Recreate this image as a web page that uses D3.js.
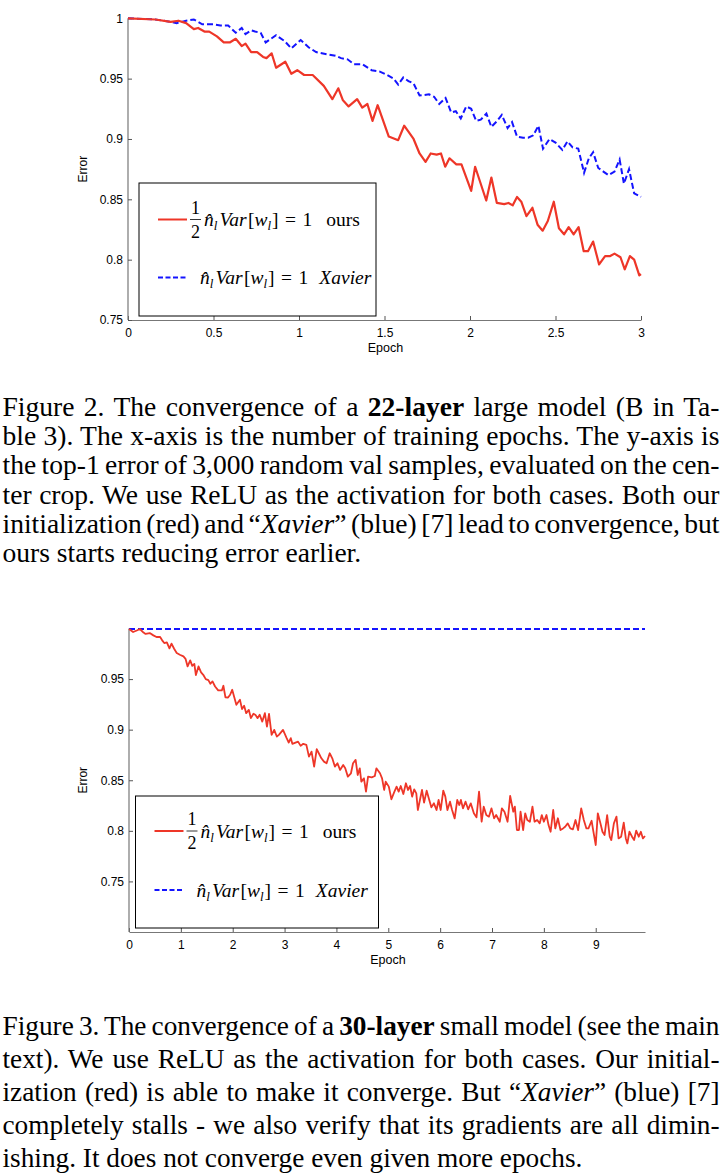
<!DOCTYPE html>
<html>
<head>
<meta charset="utf-8">
<script src="https://cdn.jsdelivr.net/npm/d3@7"></script>
<style>
  body { margin: 0; background: #fff; }
</style>
</head>
<body>
<svg id="fig" width="724" height="1176"></svg>
<script>
// Figure 2: 22-layer model, error vs epoch
var fig2OursEpoch = [0, 0.16, 0.25, 0.295, 0.34, 0.385, 0.41, 0.447, 0.475, 0.52, 0.56, 0.595, 0.63, 0.665, 0.687,
    0.72, 0.755, 0.79, 0.81, 0.84, 0.866, 0.92, 0.955, 0.99, 1.03, 1.08, 1.145, 1.195, 1.23, 1.257, 1.29, 1.34,
    1.37, 1.4, 1.43, 1.46, 1.525, 1.58, 1.615, 1.67, 1.705, 1.74, 1.77, 1.805, 1.83, 1.855, 1.88, 1.92, 1.95,
    2.007, 2.03, 2.095, 2.125, 2.157, 2.2, 2.225, 2.25, 2.275, 2.3, 2.33, 2.365, 2.395, 2.425, 2.455, 2.49, 2.52,
    2.55, 2.577, 2.606, 2.635, 2.665, 2.69, 2.72, 2.755, 2.79, 2.82, 2.845, 2.88, 2.905, 2.935, 2.96, 2.99, 3.0];
var fig2OursErr = [1.0, 0.999, 0.997, 0.998, 0.996, 0.991, 0.992, 0.989, 0.989, 0.985, 0.980, 0.980, 0.983, 0.977, 0.979,
    0.972, 0.972, 0.968, 0.967, 0.971, 0.959, 0.964, 0.954, 0.957, 0.953, 0.953, 0.944, 0.933, 0.942, 0.932, 0.927, 0.933,
    0.926, 0.929, 0.915, 0.928, 0.902, 0.899, 0.911, 0.900, 0.888, 0.881, 0.888, 0.887, 0.888, 0.877, 0.884, 0.879, 0.879,
    0.857, 0.877, 0.849, 0.868, 0.847, 0.846, 0.847, 0.845, 0.852, 0.848, 0.836, 0.843, 0.829, 0.824, 0.832, 0.848, 0.826,
    0.821, 0.827, 0.821, 0.827, 0.807, 0.807, 0.815, 0.796, 0.803, 0.803, 0.805, 0.802, 0.792, 0.803, 0.800, 0.787, 0.788];

var fig2XavierEpoch = [0, 0.16, 0.25, 0.285, 0.34, 0.385, 0.434, 0.497, 0.54, 0.586, 0.63, 0.665, 0.687, 0.72, 0.743,
    0.776, 0.805, 0.866, 0.917, 0.955, 1.01, 1.056, 1.1, 1.168, 1.213, 1.246, 1.284, 1.32, 1.37, 1.425, 1.47, 1.515,
    1.553, 1.58, 1.61, 1.64, 1.67, 1.705, 1.76, 1.79, 1.82, 1.857, 1.89, 1.917, 1.946, 1.978, 2.007, 2.036, 2.063,
    2.096, 2.125, 2.159, 2.186, 2.22, 2.246, 2.275, 2.31, 2.34, 2.37, 2.4, 2.427, 2.465, 2.5, 2.54, 2.57, 2.6, 2.633,
    2.667, 2.695, 2.72, 2.75, 2.78, 2.81, 2.845, 2.875, 2.9, 2.93, 2.96, 3.0];
var fig2XavierErr = [1.0, 0.999, 0.997, 0.996, 0.998, 0.999, 0.995, 0.995, 0.994, 0.994, 0.988, 0.992, 0.987, 0.990, 0.989,
    0.988, 0.980, 0.986, 0.981, 0.975, 0.982, 0.976, 0.972, 0.970, 0.969, 0.967, 0.966, 0.962, 0.962, 0.957, 0.956, 0.953,
    0.950, 0.945, 0.951, 0.948, 0.946, 0.936, 0.937, 0.935, 0.929, 0.934, 0.922, 0.923, 0.917, 0.927, 0.925, 0.915, 0.916,
    0.921, 0.910, 0.915, 0.920, 0.909, 0.914, 0.902, 0.901, 0.901, 0.903, 0.911, 0.892, 0.900, 0.897, 0.891, 0.898, 0.893, 0.892,
    0.872, 0.884, 0.889, 0.876, 0.873, 0.870, 0.873, 0.883, 0.863, 0.875, 0.855, 0.852];

var fig2XTicks = [0, 0.5, 1, 1.5, 2, 2.5, 3];
var fig2YTicks = [0.75, 0.8, 0.85, 0.9, 0.95, 1];

// Figure 3: 30-layer model, error vs epoch
var fig3OursEpoch = [0, 0.02, 0.08, 0.15, 0.21, 0.28, 0.32, 0.40, 0.47, 0.53, 0.60, 0.64, 0.68, 0.73, 0.78, 0.82, 0.87,
    0.92, 0.98, 1.05, 1.09, 1.13, 1.18, 1.22, 1.26, 1.29, 1.34, 1.39, 1.44, 1.48, 1.53, 1.57, 1.61, 1.66, 1.72, 1.79,
    1.82, 1.86, 1.91, 1.95, 1.99, 2.03, 2.07, 2.14, 2.18, 2.22, 2.26, 2.31, 2.35, 2.40, 2.44, 2.48, 2.52, 2.57, 2.62,
    2.66, 2.70, 2.75, 2.80, 2.85, 2.89, 2.97, 3.04, 3.08, 3.12, 3.15, 3.26, 3.31, 3.36, 3.42, 3.47, 3.52, 3.57, 3.62,
    3.66, 3.71, 3.76, 3.81, 3.87, 3.92, 3.97, 4.02, 4.07, 4.13, 4.17, 4.22, 4.28, 4.32, 4.37, 4.41, 4.45, 4.48, 4.53,
    4.57, 4.61, 4.68, 4.74, 4.77, 4.84, 4.88, 4.92, 4.95, 5.01, 5.06, 5.11, 5.16, 5.20, 5.24, 5.29, 5.34, 5.38, 5.42,
    5.46, 5.50, 5.54, 5.57, 5.61, 5.65, 5.69, 5.74, 5.79, 5.83, 5.88, 5.93, 5.97, 6.01, 6.06, 6.10, 6.14, 6.19, 6.23,
    6.28, 6.33, 6.37, 6.40, 6.44, 6.49, 6.54, 6.59, 6.65, 6.70, 6.75, 6.80, 6.84, 6.89, 6.94, 6.99, 7.04, 7.08, 7.15,
    7.19, 7.24, 7.30, 7.35, 7.41, 7.44, 7.48, 7.52, 7.55, 7.60, 7.64, 7.68, 7.73, 7.78, 7.82, 7.87, 7.92, 7.96, 8.00,
    8.05, 8.09, 8.13, 8.18, 8.22, 8.27, 8.32, 8.37, 8.41, 8.46, 8.51, 8.56, 8.61, 8.66, 8.72, 8.77, 8.82, 8.86, 8.92,
    8.95, 9.00, 9.04, 9.09, 9.13, 9.17, 9.22, 9.27, 9.30, 9.35, 9.40, 9.44, 9.49, 9.54, 9.58, 9.61, 9.65, 9.70, 9.74,
    9.78, 9.83, 9.87, 9.91, 9.95];
var fig3OursErr = [0.9995, 0.9988, 0.9965, 0.998, 0.9995, 0.996, 0.9946, 0.9955, 0.9932, 0.9916, 0.9916, 0.9883, 0.9856,
    0.9863, 0.9804, 0.985, 0.980, 0.9757, 0.974, 0.9724, 0.970, 0.9625, 0.9685, 0.963, 0.965, 0.954, 0.9625, 0.9566,
    0.9536, 0.950, 0.949, 0.9454, 0.9477, 0.9427, 0.9388, 0.9388, 0.9434, 0.932, 0.9318, 0.9345, 0.9394, 0.932, 0.9246,
    0.9295, 0.9203, 0.9236, 0.9163, 0.9196, 0.9114, 0.9157, 0.9144, 0.9114, 0.9147, 0.908, 0.9163, 0.9031, 0.9157,
    0.8949, 0.8998, 0.8932, 0.8949, 0.8998, 0.8916, 0.8873, 0.8916, 0.886, 0.8882, 0.884, 0.886, 0.885, 0.8734, 0.8783,
    0.8635, 0.8807, 0.8767, 0.8717, 0.8684, 0.8668, 0.8767, 0.8717, 0.8635, 0.8668, 0.8602, 0.8651, 0.8618, 0.8536,
    0.8569, 0.8668, 0.8701, 0.8552, 0.8618, 0.8486, 0.8519, 0.8387, 0.8536, 0.8529, 0.8542, 0.8618, 0.8569, 0.8519,
    0.8404, 0.8486, 0.8437, 0.8312, 0.8378, 0.8437, 0.8387, 0.8443, 0.8364, 0.847, 0.8404, 0.8443, 0.8338, 0.841,
    0.8371, 0.8206, 0.8305, 0.8404, 0.8279, 0.8397, 0.8305, 0.8232, 0.8272, 0.8206, 0.8305, 0.8206, 0.8397, 0.8338,
    0.8206, 0.8288, 0.8206, 0.8123, 0.8305, 0.8255, 0.8305, 0.8222, 0.8288, 0.8213, 0.8272, 0.8173, 0.8133, 0.8387,
    0.809, 0.8239, 0.8156, 0.814, 0.8222, 0.8123, 0.8156, 0.809, 0.8222, 0.8189, 0.809, 0.8345, 0.8189, 0.8239, 0.8008,
    0.8008, 0.8189, 0.8008, 0.8173, 0.8107, 0.809, 0.8239, 0.809, 0.8107, 0.8074, 0.8156, 0.809, 0.8156, 0.8057, 0.7991,
    0.8206, 0.8024, 0.8124, 0.8008, 0.8024, 0.8041, 0.8074, 0.8024, 0.8015, 0.8107, 0.8008, 0.8222, 0.8107, 0.8024,
    0.8024, 0.81, 0.8008, 0.786, 0.8173, 0.8074, 0.7991, 0.7958, 0.8156, 0.7942, 0.7909, 0.8074, 0.814, 0.7925, 0.7942,
    0.8081, 0.7925, 0.7876, 0.7991, 0.7942, 0.7909, 0.8001, 0.7942, 0.7991, 0.7925, 0.7949];

var fig3XavierEpoch = [0, 1, 2, 3, 4, 5, 6, 7, 8, 9, 9.95];
var fig3XavierErr = [0.9995, 0.9995, 0.9995, 0.9995, 0.9995, 0.9995, 0.9995, 0.9995, 0.9995, 0.9995, 0.9995];

var fig3XTicks = [0, 1, 2, 3, 4, 5, 6, 7, 8, 9];
var fig3YTicks = [0.75, 0.8, 0.85, 0.9, 0.95];

var legendLabels = ['ours', 'Xavier'];

var fig2Caption = [
    'Figure 2. The convergence of a *22-layer* large model (B in Ta-',
    'ble 3). The x-axis is the number of training epochs. The y-axis is',
    'the top-1 error of 3,000 random val samples, evaluated on the cen-',
    'ter crop. We use ReLU as the activation for both cases. Both our',
    'initialization (red) and \u201c_Xavier_\u201d (blue) [7] lead to convergence, but',
    'ours starts reducing error earlier.'
];
var fig3Caption = [
    'Figure 3. The convergence of a *30-layer* small model (see the main',
    'text). We use ReLU as the activation for both cases. Our initial-',
    'ization (red) is able to make it converge. But \u201c_Xavier_\u201d (blue) [7]',
    'completely stalls - we also verify that its gradients are all dimin-',
    'ishing. It does not converge even given more epochs.'
];

var RED = '#ee3628', BLUE = '#1414ff';
var SANS = '"Liberation Sans", Arial, Helvetica, sans-serif';
var SERIF = '"Liberation Serif", "Times New Roman", serif';

var svg = d3.select('#fig');

function zip(xs, ys) { return xs.map(function(x, i) { return [x, ys[i]] }) }

function drawPanel(p)
{
    var g = svg.append('g');
    var x = d3.scaleLinear().domain(p.xDomain).range([p.left, p.right]),
        y = d3.scaleLinear().domain(p.yDomain).range([p.bottom, p.top]);

    var fmt = function(d) { return String(d) };

    var xa = g.append('g')
        .attr('transform', 'translate(0,' + p.bottom + ')')
        .call(d3.axisBottom(x).tickValues(p.xTicks).tickFormat(fmt).tickSizeInner(-4).tickSizeOuter(0).tickPadding(8));
    var ya = g.append('g')
        .attr('transform', 'translate(' + p.left + ',0)')
        .call(d3.axisLeft(y).tickValues(p.yTicks).tickFormat(fmt).tickSizeInner(-4).tickSizeOuter(0).tickPadding(5));

    [xa, ya].forEach(function(a) {
        a.attr('font-family', SANS).attr('font-size', 12);
        a.select('.domain').attr('stroke', '#777').attr('stroke-width', 1.2);
        a.selectAll('.tick line').attr('stroke', '#555');
        a.selectAll('.tick text').attr('fill', '#000');
    });

    // the y domain line covers the full extent
    ya.select('.domain').attr('d', 'M0,' + p.top + 'V' + p.bottom);

    g.append('text')
        .attr('transform', 'translate(' + p.yLabelX + ',' + ((p.top + p.bottom) / 2) + ') rotate(-90)')
        .attr('text-anchor', 'middle')
        .attr('font-family', SANS).attr('font-size', 12)
        .text('Error');

    g.append('text')
        .attr('x', (p.left + p.right) / 2 + 1).attr('y', p.bottom + 32)
        .attr('text-anchor', 'middle')
        .attr('font-family', SANS).attr('font-size', 12.5)
        .text('Epoch');

    var line = d3.line().x(function(d) { return x(d[0]) }).y(function(d) { return y(d[1]) });

    g.append('path')
        .datum(p.xavier)
        .attr('fill', 'none').attr('stroke', BLUE).attr('stroke-width', 2)
        .attr('stroke-dasharray', '6,3')
        .attr('d', line);

    g.append('path')
        .datum(p.ours)
        .attr('fill', 'none').attr('stroke', RED).attr('stroke-width', p.redWidth)
        .attr('stroke-linejoin', 'round')
        .attr('d', line);

    drawLegend(g, p.legend);
}

function mathText(g, x0, yb, label, italic)
{
    var t = g.append('text')
        .attr('x', x0).attr('y', yb)
        .attr('font-family', SERIF).attr('font-size', 19.5);

    t.append('tspan').attr('font-style', 'italic').text('n\u0302');
    t.append('tspan').attr('font-style', 'italic').attr('font-size', 13).attr('dy', 4).text('l');
    t.append('tspan').attr('font-style', 'italic').attr('dy', -4).attr('dx', 2).text('Var');
    t.append('tspan').attr('dx', 1.5).text('[');
    t.append('tspan').attr('font-style', 'italic').text('w');
    t.append('tspan').attr('font-style', 'italic').attr('font-size', 13).attr('dy', 4).text('l');
    t.append('tspan').attr('dy', -4).attr('dx', 1).text(']');
    t.append('tspan').attr('dx', 6.5).text('=');
    t.append('tspan').attr('dx', 6.5).text('1');
    t.append('tspan').attr('dx', italic ? 11 : 14).attr('font-style', italic ? 'italic' : 'normal').text(label);
}

function drawLegend(g, L)
{
    g.append('rect')
        .attr('x', L.x).attr('y', L.y).attr('width', L.w).attr('height', L.h)
        .attr('fill', '#fff').attr('stroke', '#000').attr('stroke-width', 1);

    // ours row
    g.append('line')
        .attr('x1', L.x + 19).attr('x2', L.x + 48).attr('y1', L.row1).attr('y2', L.row1)
        .attr('stroke', RED).attr('stroke-width', 2);
    var fx = L.x + 56.5;
    g.append('text').attr('x', fx).attr('y', L.row1 - 6).attr('text-anchor', 'middle')
        .attr('font-family', SERIF).attr('font-size', 18).text('1');
    g.append('line').attr('x1', fx - 5.5).attr('x2', fx + 5.5).attr('y1', L.row1).attr('y2', L.row1)
        .attr('stroke', '#000').attr('stroke-width', 0.8);
    g.append('text').attr('x', fx).attr('y', L.row1 + 18).attr('text-anchor', 'middle')
        .attr('font-family', SERIF).attr('font-size', 18).text('2');
    mathText(g, L.x + 65, L.row1 + 6.5, legendLabels[0], false);

    // xavier row
    g.append('line')
        .attr('x1', L.x + 19).attr('x2', L.x + 48).attr('y1', L.row2).attr('y2', L.row2)
        .attr('stroke', BLUE).attr('stroke-width', 2).attr('stroke-dasharray', '5,2.5');
    mathText(g, L.x + 61, L.row2 + 6.5, legendLabels[1], true);
}

function drawCaption(lines, y0, lh, size, sx)
{
    var left = 2.5, right = 719.5;
    var g = svg.append('g').attr('transform', 'translate(' + left + ',0) scale(' + sx + ',1)');
    lines.forEach(function(line, i) {
        var t = g.append('text')
            .attr('x', 0).attr('y', y0 + i * lh)
            .attr('font-family', SERIF).attr('font-size', size)
            .attr('fill', '#000');
        line.split(/(\*[^*]+\*|_[^_]+_)/).forEach(function(seg) {
            if(!seg) return;
            var s = t.append('tspan');
            if(seg[0] == '*') { s.attr('font-weight', 'bold').text(seg.slice(1, -1)) }
            else if(seg[0] == '_') { s.attr('font-style', 'italic').text(seg.slice(1, -1)) }
            else { s.text(seg) }
        });
        if(i < lines.length - 1)
        {
            var w = t.node().getComputedTextLength(),
                n = (line.match(/ /g) || []).length;
            t.attr('word-spacing', ((right - left) / sx - w) / n);
        }
    });
}

drawPanel({
    left: 128, right: 641, top: 18.3, bottom: 320,
    xDomain: [0, 3], yDomain: [0.75, 1],
    xTicks: fig2XTicks, yTicks: fig2YTicks,
    yLabelX: 87, redWidth: 2.2,
    ours: zip(fig2OursEpoch, fig2OursErr),
    xavier: zip(fig2XavierEpoch, fig2XavierErr),
    legend: { x: 139, y: 183, w: 237, h: 133, row1: 219.5, row2: 277.5 }
});

drawPanel({
    left: 129, right: 645, top: 628.5, bottom: 932,
    xDomain: [0, 9.95], yDomain: [0.7, 1],
    xTicks: fig3XTicks, yTicks: fig3YTicks,
    yLabelX: 87, redWidth: 1.8,
    ours: zip(fig3OursEpoch, fig3OursErr),
    xavier: zip(fig3XavierEpoch, fig3XavierErr),
    legend: { x: 135.5, y: 796, w: 243, h: 132, row1: 831, row2: 890 }
});

drawCaption(fig2Caption, 416, 29.2, 26.5, 1.04);
drawCaption(fig3Caption, 1035, 33, 26.5, 1.03);
</script>
</body>
</html>
